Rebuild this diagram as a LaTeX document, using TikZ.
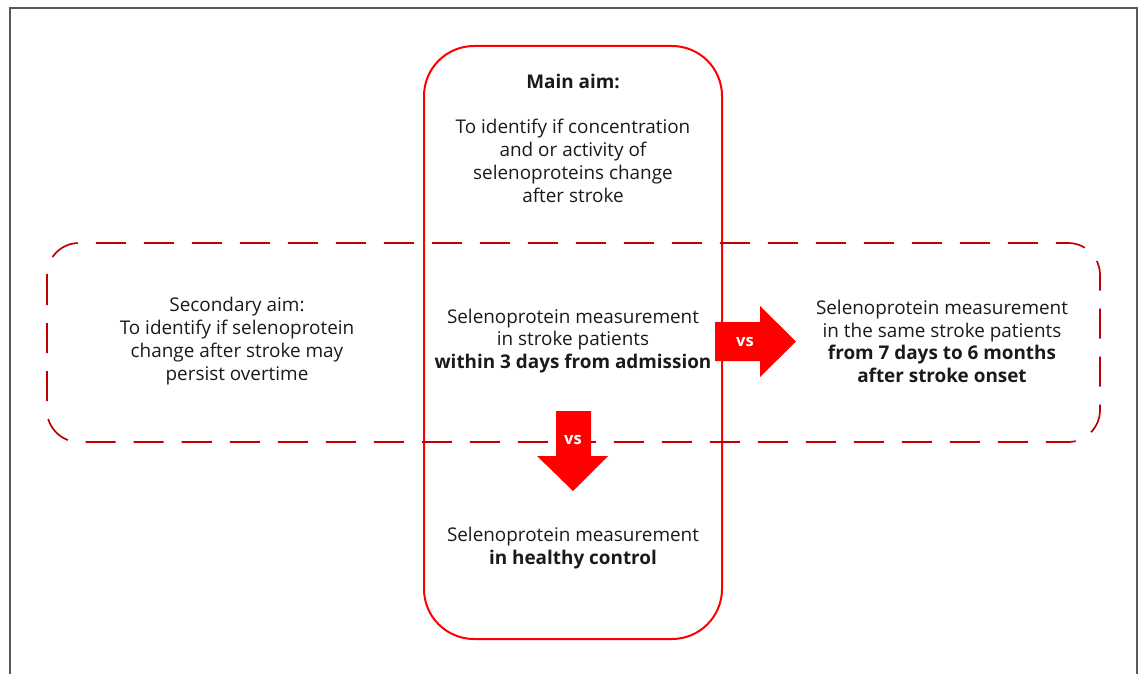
\documentclass[tikz,border=0pt]{standalone}
\usepackage{fontspec}
\setmainfont{Open Sans}
\usepackage{tikz}
\usetikzlibrary{positioning, shapes}
\definecolor{aimred}{HTML}{FF0000}
\definecolor{darkred}{HTML}{C00000}
\definecolor{inkgrey}{HTML}{1A1A1A}
\tikzstyle{aimtext} = [align=center, inner sep=0pt, text=inkgrey, font=\fontsize{18.9}{22.8}\selectfont]
\tikzstyle{mainbox} = [draw=aimred, line width=2pt, rounded corners=50pt]
\tikzstyle{studybox} = [draw=darkred, line width=1.7pt, rounded corners=32pt, dash pattern=on 30pt off 18pt]
\tikzstyle{vsarrow} = [fill=aimred, draw=none]
\tikzstyle{vslabel} = [text=white, font=\fontsize{16.5}{18}\selectfont\bfseries, inner sep=0pt]

\begin{document}
\begin{tikzpicture}[x=1pt, y=-1pt]
\useasboundingbox (0,0) rectangle (1143,674);
% outer frame, open at the bottom
\draw [line width=2pt, color=black!65] (10,674) -- (10,8) -- (1137,8) -- (1137,674);

% the two aim boxes
\draw [mainbox] (424,46) rectangle (722,639);
\draw [studybox] (47,243) rectangle (1100,442);

% text of the boxes
\node (mainaim) [aimtext] at (573,81) {\bfseries Main aim:};
\node (maintext) [aimtext] at (573,161) {To identify if concentration\\and or activity of\\selenoproteins change\\after stroke};
\node (secaim) [aimtext] at (237,341) {Secondary aim:\\To identify if selenoprotein\\change after stroke may\\persist overtime};
\node (early) [aimtext] at (573,341) {Selenoprotein measurement\\in stroke patients\\\bfseries within 3 days from admission};
\node (late) [aimtext] at (942,341.5) {Selenoprotein measurement\\in the same stroke patients\\\bfseries from 7 days to 6 months\\\bfseries after stroke onset};
\node (healthy) [aimtext] at (573,548) {Selenoprotein measurement\\\bfseries in healthy control};

% block arrows with vs
\fill [vsarrow] (715,322) -- (760,322) -- (760,306) -- (796,341.5) -- (760,377) -- (760,361) -- (715,361) -- cycle;
\fill [vsarrow] (556,411) -- (591,411) -- (591,456) -- (608,456) -- (573,491) -- (537,456) -- (556,456) -- cycle;
\node (vsright) [vslabel] at (745,342) {vs};
\node (vsdown) [vslabel] at (573,440) {vs};
\end{tikzpicture}
\end{document}
